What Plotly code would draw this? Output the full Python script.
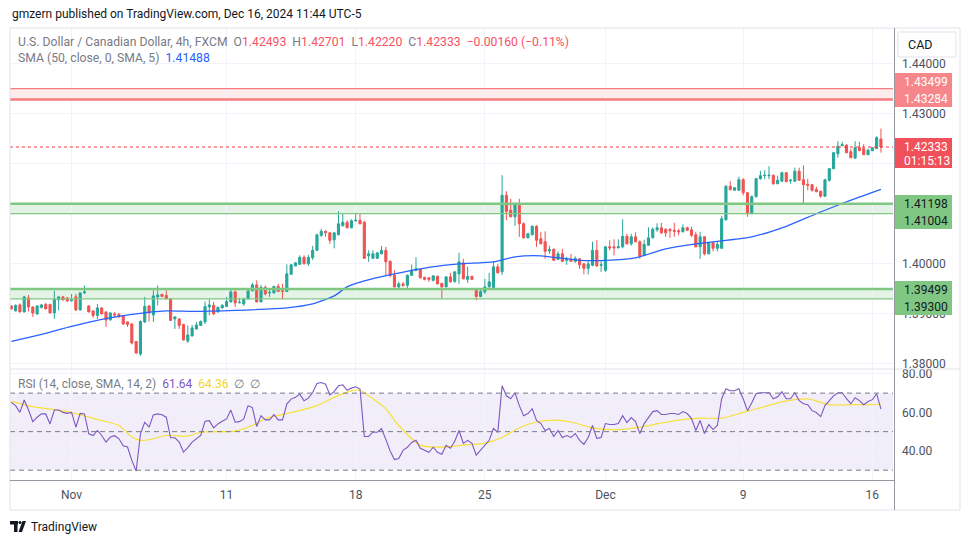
import plotly.graph_objects as go

# ---------------- data ----------------
bar_index = list(range(203))
date_tick_idx = [14, 50, 80, 110, 138, 170, 200]
date_tick_text = ["Nov", "11", "18", "25", "Dec", "9", "16"]

opens = [1.3916,1.3906,1.3918,1.3904,1.3932,1.3914,1.3900,1.3913,1.3919,1.3919,
1.3902,1.3928,1.3934,1.3932,1.3926,1.3934,1.3908,1.3942,1.3916,1.3906,
1.3897,1.3912,1.3904,1.3888,1.3900,1.3899,1.3896,1.3884,1.3880,1.3845,
1.3820,1.3884,1.3916,1.3898,1.3934,1.3939,1.3937,1.3930,1.3890,1.3890,
1.3879,1.3846,1.3856,1.3870,1.3877,1.3884,1.3914,1.3917,1.3904,1.3912,
1.3915,1.3924,1.3944,1.3922,1.3920,1.3930,1.3946,1.3958,1.3924,1.3953,
1.3942,1.3942,1.3955,1.3946,1.3945,1.3979,1.3996,1.3999,1.4013,1.4000,
1.4012,1.4027,1.4057,1.4065,1.4062,1.4048,1.4058,1.4076,1.4083,1.4072,
1.4086,1.4087,1.4083,1.4016,1.4011,1.4011,1.4020,1.4027,1.4005,1.3977,
1.3954,1.3960,1.3957,1.3977,1.3987,1.3989,1.3973,1.3972,1.3967,1.3975,
1.3961,1.3954,1.3974,1.3965,1.3980,1.4002,1.3969,1.3975,1.3947,1.3935,
1.3944,1.3954,1.3953,1.3994,1.3984,1.4137,1.4107,1.4094,1.4117,1.4080,
1.4052,1.4058,1.4075,1.4050,1.4044,1.4026,1.4029,1.4009,1.4020,1.4007,
1.4009,1.4005,1.4010,1.4000,1.3991,1.3997,1.4027,1.3997,1.3987,1.4034,
1.4034,1.4032,1.4034,1.4055,1.4040,1.4054,1.4044,1.4017,1.4037,1.4052,
1.4068,1.4072,1.4069,1.4069,1.4067,1.4066,1.4064,1.4072,1.4068,1.4058,
1.4034,1.4054,1.4020,1.4042,1.4031,1.4031,1.4088,1.4155,1.4147,1.4147,
1.4168,1.4142,1.4100,1.4134,1.4170,1.4176,1.4176,1.4177,1.4160,1.4165,
1.4182,1.4166,1.4165,1.4185,1.4168,1.4159,1.4158,1.4149,1.4145,1.4135,
1.4167,1.4190,1.4220,1.4236,1.4237,1.4224,1.4211,1.4232,1.4230,1.4218,
1.4226,1.4230,1.42493]

highs = [1.3917,1.3919,1.3921,1.3936,1.3938,1.3915,1.3917,1.3920,1.3922,1.3920,
1.3946,1.3935,1.3936,1.3933,1.3940,1.3940,1.3943,1.3957,1.3917,1.3907,
1.3920,1.3913,1.3905,1.3903,1.3904,1.3902,1.3897,1.3885,1.3881,1.3846,
1.3887,1.3934,1.3917,1.3947,1.3957,1.3940,1.3947,1.3932,1.3895,1.3891,
1.3880,1.3877,1.3878,1.3884,1.3887,1.3925,1.3929,1.3924,1.3915,1.3920,
1.3934,1.3950,1.3947,1.3932,1.3932,1.3947,1.3962,1.3967,1.3958,1.3957,
1.3950,1.3956,1.3960,1.3960,1.3999,1.4000,1.4003,1.4017,1.4017,1.4018,
1.4036,1.4060,1.4070,1.4067,1.4063,1.4063,1.4105,1.4100,1.4087,1.4089,
1.4102,1.4100,1.4086,1.4027,1.4027,1.4023,1.4036,1.4034,1.4007,1.3987,
1.3964,1.3964,1.3979,1.3999,1.4013,1.3990,1.3974,1.3973,1.3977,1.3977,
1.3962,1.3975,1.3982,1.3985,1.4022,1.4010,1.3994,1.3976,1.3950,1.3948,
1.3970,1.3982,1.4005,1.4000,1.4177,1.4145,1.4130,1.4123,1.4130,1.4083,
1.4062,1.4077,1.4077,1.4064,1.4065,1.4036,1.4031,1.4025,1.4030,1.4014,
1.4020,1.4015,1.4011,1.4001,1.4007,1.4044,1.4047,1.4007,1.4035,1.4047,
1.4049,1.4049,1.4089,1.4060,1.4060,1.4063,1.4047,1.4048,1.4073,1.4073,
1.4081,1.4082,1.4071,1.4071,1.4082,1.4070,1.4079,1.4074,1.4074,1.4064,
1.4064,1.4055,1.4044,1.4043,1.4044,1.4096,1.4157,1.4165,1.4153,1.4174,
1.4171,1.4143,1.4137,1.4172,1.4186,1.4187,1.4195,1.4178,1.4176,1.4184,
1.4183,1.4170,1.4192,1.4192,1.4197,1.4170,1.4159,1.4154,1.4146,1.4170,
1.4191,1.4223,1.4245,1.4244,1.4239,1.4230,1.4245,1.4244,1.4239,1.4230,
1.4233,1.4255,1.42701]

lows = [1.3909,1.3905,1.3903,1.3903,1.3905,1.3894,1.3898,1.3911,1.3909,1.3901,
1.3890,1.3907,1.3927,1.3924,1.3925,1.3906,1.3907,1.3940,1.3903,1.3892,
1.3890,1.3899,1.3874,1.3887,1.3894,1.3893,1.3878,1.3874,1.3839,1.3820,
1.3816,1.3882,1.3885,1.3884,1.3917,1.3934,1.3929,1.3886,1.3870,1.3870,
1.3847,1.3842,1.3855,1.3869,1.3876,1.3880,1.3897,1.3898,1.3903,1.3911,
1.3914,1.3923,1.3914,1.3922,1.3916,1.3929,1.3946,1.3923,1.3923,1.3937,
1.3934,1.3941,1.3944,1.3929,1.3944,1.3978,1.3995,1.3998,1.3999,1.3996,
1.4008,1.4026,1.4054,1.4054,1.4040,1.4031,1.4057,1.4075,1.4071,1.4071,
1.4084,1.4079,1.4010,1.4004,1.4011,1.4011,1.4019,1.3977,1.3973,1.3953,
1.3949,1.3954,1.3949,1.3976,1.3985,1.3971,1.3967,1.3964,1.3965,1.3959,
1.3930,1.3953,1.3963,1.3962,1.3960,1.3969,1.3962,1.3968,1.3927,1.3933,
1.3940,1.3953,1.3952,1.3981,1.3978,1.4087,1.4093,1.4076,1.4054,1.4051,
1.4051,1.4057,1.4034,1.4040,1.4010,1.4020,1.4006,1.4008,1.4004,1.3998,
1.4004,1.4002,1.3990,1.3979,1.3979,1.3995,1.3994,1.3984,1.3984,1.4027,
1.4017,1.4031,1.4031,1.4039,1.4036,1.4043,1.4010,1.4017,1.4036,1.4051,
1.4064,1.4060,1.4054,1.4052,1.4054,1.4057,1.4063,1.4066,1.4054,1.4033,
1.4010,1.4017,1.4019,1.4025,1.4025,1.4031,1.4086,1.4147,1.4146,1.4146,
1.4137,1.4094,1.4100,1.4133,1.4168,1.4169,1.4169,1.4158,1.4159,1.4164,
1.4163,1.4160,1.4164,1.4166,1.4120,1.4147,1.4144,1.4143,1.4132,1.4134,
1.4164,1.4190,1.4212,1.4235,1.4221,1.4211,1.4211,1.4225,1.4218,1.4217,
1.4225,1.4230,1.42220]

closes = [1.3910,1.3917,1.3904,1.3934,1.3914,1.3902,1.3916,1.3918,1.3910,1.3902,
1.3929,1.3934,1.3928,1.3926,1.3928,1.3908,1.3942,1.3944,1.3904,1.3897,
1.3912,1.3900,1.3888,1.3902,1.3898,1.3894,1.3880,1.3879,1.3842,1.3822,
1.3885,1.3915,1.3902,1.3936,1.3938,1.3935,1.3930,1.3887,1.3894,1.3877,
1.3848,1.3858,1.3872,1.3878,1.3885,1.3915,1.3918,1.3900,1.3913,1.3917,
1.3925,1.3944,1.3922,1.3923,1.3930,1.3946,1.3958,1.3924,1.3953,1.3940,
1.3943,1.3955,1.3945,1.3945,1.3980,1.3998,1.4002,1.4013,1.4000,1.4013,
1.4027,1.4058,1.4065,1.4062,1.4047,1.4062,1.4080,1.4083,1.4072,1.4086,
1.4087,1.4080,1.4011,1.4020,1.4020,1.4022,1.4027,1.4004,1.3977,1.3954,
1.3960,1.3957,1.3977,1.3987,1.3990,1.3972,1.3969,1.3969,1.3976,1.3960,
1.3954,1.3974,1.3964,1.3984,1.4004,1.3970,1.3975,1.3969,1.3935,1.3945,
1.3954,1.3964,1.3994,1.3982,1.4137,1.4105,1.4094,1.4120,1.4080,1.4052,
1.4060,1.4075,1.4047,1.4040,1.4025,1.4029,1.4007,1.4020,1.4005,1.4009,
1.4005,1.4011,1.3998,1.3991,1.4000,1.4027,1.3996,1.3998,1.4034,1.4032,
1.4032,1.4034,1.4055,1.4040,1.4054,1.4044,1.4015,1.4039,1.4052,1.4069,
1.4072,1.4062,1.4062,1.4066,1.4065,1.4064,1.4072,1.4067,1.4057,1.4034,
1.4054,1.4020,1.4042,1.4031,1.4039,1.4090,1.4155,1.4148,1.4152,1.4168,
1.4142,1.4100,1.4134,1.4170,1.4176,1.4177,1.4177,1.4160,1.4167,1.4182,
1.4164,1.4167,1.4185,1.4167,1.4158,1.4157,1.4147,1.4144,1.4135,1.4168,
1.4190,1.4222,1.4235,1.4238,1.4222,1.4212,1.4232,1.4226,1.4218,1.4227,
1.4232,1.4252,1.42333]

sma_idx = [0, 7, 14, 21, 28, 36, 42, 52, 64, 70, 75, 78, 82, 89, 97, 104, 112, 117, 123, 132, 138, 145, 152, 159, 163, 172, 180, 187, 194, 202]
sma_vals = [1.3845, 1.3859, 1.3875, 1.3889, 1.3899, 1.3906, 1.3905, 1.3907, 1.3912, 1.3920, 1.3936, 1.3954, 1.3966, 1.3980, 1.3993, 1.4000, 1.4004, 1.4014, 1.4016, 1.4007, 1.4007, 1.4012, 1.4030, 1.4040, 1.4044, 1.4054, 1.4075, 1.4100, 1.4124, 1.41488]

rsi_vals = [65.2,63.5,60.0,66.4,61.2,55.2,57.5,59.2,59.2,54.0,
61.2,61.2,60.0,59.5,60.0,52.3,59.5,59.2,48.9,48.0,
50.6,48.0,44.6,47.2,47.9,46.3,42.7,42.0,35.1,29.5,
48.9,54.9,52.3,58.7,59.2,58.8,57.5,46.8,46.8,44.6,
39.4,41.7,44.6,46.3,48.0,55.4,55.7,52.0,54.0,55.4,
56.6,61.2,54.9,55.2,56.6,63.5,62.5,52.7,58.3,56.1,
56.1,58.8,56.1,56.1,64.3,66.9,67.8,69.5,66.0,67.4,
70.3,75.0,75.5,74.6,69.1,70.9,73.8,74.3,71.5,72.6,
73.3,72.1,47.5,47.5,49.7,49.7,51.5,46.0,40.0,35.5,
36.0,40.3,41.9,44.4,45.5,41.4,40.3,39.3,41.9,39.3,
38.3,42.9,41.4,45.0,50.6,43.9,45.5,43.9,37.8,40.3,
42.9,45.5,51.6,49.6,73.8,68.6,67.1,70.2,63.5,58.3,
59.4,61.9,55.8,54.2,50.6,51.6,47.5,50.6,47.0,48.0,
47.0,49.0,45.5,43.4,47.0,53.2,46.5,47.0,54.2,53.7,
53.7,54.2,58.3,54.7,57.3,55.2,49.0,54.2,57.3,60.4,
60.9,58.9,58.9,59.4,59.4,58.9,60.4,59.4,56.8,50.6,
55.8,49.0,53.7,51.1,53.2,67.1,72.3,71.2,71.2,72.3,
67.1,60.9,65.0,69.7,70.2,70.2,70.2,67.1,68.1,70.7,
67.1,67.1,70.2,66.1,64.5,64.0,60.9,59.9,57.8,63.5,
66.1,68.6,70.2,70.2,67.1,64.5,67.6,66.1,64.0,65.6,
66.6,69.7,61.64]

rsi_ma_idx = [0, 5, 13, 21, 25, 28, 30, 32, 36, 41, 44, 52, 56, 59, 67, 71, 75, 79, 81, 83, 87, 90, 95, 100, 105, 110, 114, 118, 122, 126, 130, 135, 140, 145, 150, 155, 160, 165, 170, 175, 180, 185, 190, 195, 200, 202]
rsi_ma_vals = [65.7, 63.0, 60.4, 55.7, 53.2, 47.2, 45.5, 45.8, 48.0, 47.7, 49.7, 50.3, 53.2, 56.6, 60.9, 63.5, 67.8, 71.2, 71.5, 68.6, 61.8, 53.2, 43.0, 42.0, 43.0, 44.0, 47.0, 52.0, 55.0, 56.0, 55.0, 52.0, 51.0, 52.0, 54.0, 56.0, 57.0, 57.0, 60.0, 63.0, 66.0, 67.0, 64.0, 64.0, 64.0, 64.36]

red_zone = (1.43284, 1.43499)
green_zone_hi = (1.41004, 1.41198)
green_zone_lo = (1.39300, 1.39499)
last_price = 1.42333
price_ticks = [1.38, 1.39, 1.40, 1.41, 1.42, 1.43, 1.44]
price_tick_text = ["1.38000", "1.39000", "1.40000", "", "", "1.43000", "1.44000"]
rsi_ticks = [40, 60, 80]

# ---------------- layout helpers ----------------
# page body has an 8px margin, so reference pixel (x, y) maps to figure pixel (x-8, y-8)
OFF = 8
W, H = 970 - OFF, 545 - OFF
PL, PR, PT, PB = 10 - OFF, 893 - OFF, 28 - OFF, 480 - OFF
def px(x): return (x - OFF - PL) / (PR - PL)
def py(y): return (PB - (y - OFF)) / (PB - PT)

FONT = "Roboto, Arial, sans-serif"
UP, DN = "#26a69a", "#ef5350"
XR = [-0.3, 204.8]

fig = go.Figure()
fig.add_trace(go.Candlestick(
    x=bar_index, open=opens, high=highs, low=lows, close=closes,
    increasing=dict(line=dict(color=UP, width=1), fillcolor=UP),
    decreasing=dict(line=dict(color=DN, width=1), fillcolor=DN),
    whiskerwidth=0, xaxis="x", yaxis="y", hoverinfo="skip", showlegend=False))
fig.add_trace(go.Scatter(x=sma_idx, y=sma_vals, mode="lines",
    line=dict(color="#2962ff", width=1.3, shape="spline", smoothing=0.6),
    xaxis="x", yaxis="y", hoverinfo="skip", showlegend=False))
fig.add_trace(go.Scatter(x=rsi_ma_idx, y=rsi_ma_vals, mode="lines",
    line=dict(color="#f7e03a", width=1.2, shape="spline", smoothing=0.8),
    xaxis="x", yaxis="y2", hoverinfo="skip", showlegend=False))
fig.add_trace(go.Scatter(x=bar_index, y=rsi_vals, mode="lines",
    line=dict(color="#7e57c2", width=1.1),
    xaxis="x", yaxis="y2", hoverinfo="skip", showlegend=False))

shapes = []
annos = []
def zone(lo, hi, fill, line, thick_top=True):
    shapes.append(dict(type="rect", xref="x", yref="y", x0=XR[0], x1=XR[1], y0=lo, y1=hi,
                       fillcolor=fill, line=dict(width=0), layer="below"))
    shapes.append(dict(type="line", xref="x", yref="y", x0=XR[0], x1=XR[1], y0=hi, y1=hi,
                       line=dict(color=line, width=2.5 if thick_top else 1.2)))
    shapes.append(dict(type="line", xref="x", yref="y", x0=XR[0], x1=XR[1], y0=lo, y1=lo,
                       line=dict(color=line, width=1.2 if thick_top else 2.5)))
zone(*red_zone, "rgba(242,54,69,0.10)", "#f77c80", thick_top=False)
zone(*green_zone_hi, "rgba(76,175,80,0.15)", "#81c784")
zone(*green_zone_lo, "rgba(76,175,80,0.15)", "#81c784")
shapes.append(dict(type="line", xref="x", yref="y", x0=XR[0], x1=XR[1], y0=last_price, y1=last_price,
                   line=dict(color="#f23645", width=1, dash="dot")))
shapes.append(dict(type="rect", xref="x", yref="y2", x0=XR[0], x1=XR[1], y0=30, y1=70,
                   fillcolor="rgba(126,87,194,0.10)", line=dict(width=0), layer="below"))
for lv in (70, 50, 30):
    shapes.append(dict(type="line", xref="x", yref="y2", x0=XR[0], x1=XR[1], y0=lv, y1=lv,
                       line=dict(color="#787b86", width=1, dash="5px,4px")))
# frame & separators
shapes.append(dict(type="rect", xref="paper", yref="paper", x0=px(10), x1=px(960), y0=py(28), y1=py(510),
                   line=dict(color="#e0e3eb", width=1)))
shapes.append(dict(type="line", xref="paper", yref="paper", x0=px(10), x1=px(960), y0=py(369), y1=py(369),
                   line=dict(color="#e0e3eb", width=1)))
shapes.append(dict(type="line", xref="paper", yref="paper", x0=px(10), x1=px(894), y0=py(480.5), y1=py(480.5),
                   line=dict(color="#9598a1", width=1)))
shapes.append(dict(type="line", xref="paper", yref="paper", x0=px(894.5), x1=px(894.5), y0=py(28), y1=py(510),
                   line=dict(color="#9598a1", width=1)))

def label_box(y0, y1, fill, texts, ys, tcolor):
    shapes.append(dict(type="rect", xref="paper", yref="paper", x0=px(895), x1=px(952), y0=py(y0), y1=py(y1),
                       fillcolor=fill, line=dict(width=0)))
    for t, yy in zip(texts, ys):
        annos.append(dict(xref="paper", yref="paper", x=px(902), y=py(yy), xanchor="left", yanchor="middle",
                          text=t, showarrow=False, font=dict(family=FONT, size=12, color=tcolor)))
label_box(73, 107, "#f7868b", ["1.43499", "1.43284"], [81.5, 99], "#ffffff")
label_box(138, 168, "#f0505a", ["1.42333", "01:15:13"], [146.5, 160.5], "#ffffff")
label_box(195, 229, "#81c784", ["1.41198", "1.41004"], [203.5, 220.5], "#131722")
label_box(281, 315, "#81c784", ["1.39499", "1.39300"], [289.5, 306.5], "#131722")
shapes.append(dict(type="rect", xref="paper", yref="paper", x0=px(898), x1=px(956), y0=py(32), y1=py(57),
                   fillcolor="#ffffff", line=dict(color="#e0e3eb", width=1)))
annos.append(dict(xref="paper", yref="paper", x=px(920), y=py(44.5), xanchor="center", yanchor="middle",
                  text="CAD", showarrow=False, font=dict(family=FONT, size=12.5, color="#131722")))

G = "#787b86"
R_ = "#f7525f"
sp = "&nbsp;"
line1 = (f'<span style="color:{G}">U.S. Dollar / Canadian Dollar, 4h, FXCM</span>{sp*2}'
         f'<span style="color:{G}">O</span><span style="color:{R_}">1.42493</span>{sp*2}'
         f'<span style="color:{G}">H</span><span style="color:{R_}">1.42701</span>{sp*2}'
         f'<span style="color:{G}">L</span><span style="color:{R_}">1.42220</span>{sp*2}'
         f'<span style="color:{G}">C</span><span style="color:{R_}">1.42333</span>{sp*2}'
         f'<span style="color:{R_}">−0.00160 (−0.11%)</span>')
line2 = f'<span style="color:{G}">SMA (50, close, 0, SMA, 5)</span>{sp*2}<span style="color:#2962ff">1.41488</span>'
line3 = (f'<span style="color:{G}">RSI (14, close, SMA, 14, 2)</span>{sp*2}<span style="color:#7e57c2">61.64</span>{sp*2}'
         f'<span style="color:#f7d51d">64.36</span>{sp*2}<span style="color:{G}">∅{sp*2}∅</span>')
for t, yy, fs in ((line1, 42, 12.2), (line2, 58, 12.2), (line3, 384, 12)):
    annos.append(dict(xref="paper", yref="paper", x=px(16), y=py(yy), xanchor="left", yanchor="middle",
                      text=t, showarrow=False, font=dict(family=FONT, size=fs)))
annos.append(dict(xref="paper", yref="paper", x=px(10), y=py(14), xanchor="left", yanchor="middle",
                  text="gmzern published on TradingView.com, Dec 16, 2024 11:44 UTC-5", showarrow=False,
                  font=dict(family=FONT, size=12, color="#131722")))
annos.append(dict(xref="paper", yref="paper", x=px(29), y=py(527), xanchor="left", yanchor="middle",
                  text="TradingView", showarrow=False, font=dict(family=FONT, size=12, color="#131722")))
# TradingView logo glyph
shapes.append(dict(type="rect", xref="paper", yref="paper", x0=px(10), x1=px(18), y0=py(521), y1=py(524.5),
                   fillcolor="#131722", line=dict(width=0)))
shapes.append(dict(type="rect", xref="paper", yref="paper", x0=px(14), x1=px(17.5), y0=py(521), y1=py(532),
                   fillcolor="#131722", line=dict(width=0)))
shapes.append(dict(type="circle", xref="paper", yref="paper", x0=px(18.5), x1=px(21.5), y0=py(521), y1=py(524),
                   fillcolor="#131722", line=dict(width=0)))
shapes.append(dict(type="path", xref="paper", yref="paper",
                   path=f"M {px(22.5)},{py(521)} L {px(26)},{py(521)} L {px(22)},{py(532)} L {px(18.5)},{py(532)} Z",
                   fillcolor="#131722", line=dict(width=0)))

fig.update_layout(
    width=W, height=H, margin=dict(l=PL, r=W - PR, t=PT, b=H - PB),
    paper_bgcolor="#ffffff", plot_bgcolor="#ffffff",
    showlegend=False, shapes=shapes, annotations=annos,
    font=dict(family=FONT, size=12, color="#4c525e"),
    xaxis=dict(range=XR, anchor="y2", tickvals=date_tick_idx, ticktext=date_tick_text,
               showgrid=True, gridcolor="#f0f3fa", zeroline=False, ticks="", showline=False,
               rangeslider=dict(visible=False), tickfont=dict(size=12, color="#4c525e"),
               ticklabelstandoff=6, fixedrange=True),
    yaxis=dict(domain=[(480 - 369) / 452, 1], range=[1.3790, 1.4471], side="right",
               tickvals=price_ticks, ticktext=price_tick_text,
               showgrid=True, gridcolor="#f0f3fa", zeroline=False, ticks="", ticklabelstandoff=8),
    yaxis2=dict(domain=[0, (480 - 370) / 452], range=[24.9, 82.0], side="right",
                tickvals=rsi_ticks, ticktext=[f"{v:.2f}" for v in rsi_ticks],
                showgrid=True, gridcolor="#f0f3fa", zeroline=False, ticks="", ticklabelstandoff=8),
    boxgap=0.3,
)
fig.write_html("out.html")
